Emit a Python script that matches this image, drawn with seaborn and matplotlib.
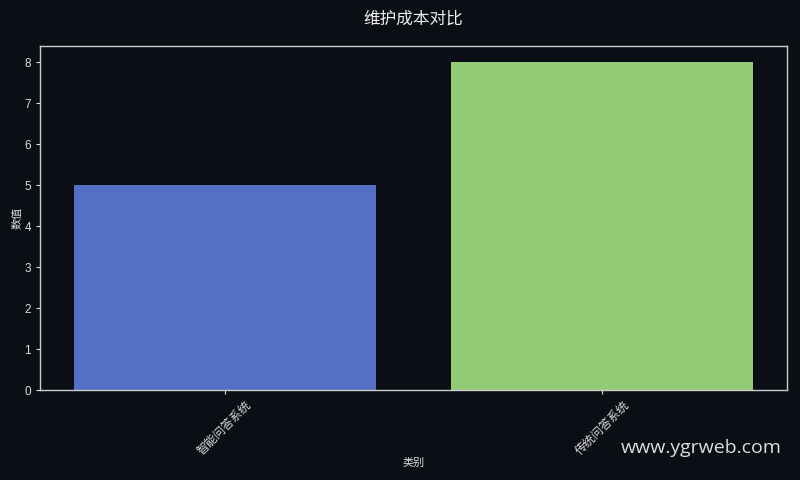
import seaborn as sns
import matplotlib.pyplot as plt
import pandas as pd

categories = ['智能问答系统', '传统问答系统']
values = [5, 8]
colors = ['#5470c6', '#91cc75']

bg = '#0b0e14'
sns.set_style('dark')
plt.rcParams['font.family'] = ['Liberation Sans', 'Noto Sans CJK SC', 'DejaVu Sans']

df = pd.DataFrame({'类别': categories, '数值': values})

fig, ax = plt.subplots(figsize=(8, 4.8), dpi=100)
fig.patch.set_facecolor(bg)
ax.set_facecolor(bg)

sns.barplot(data=df, x='类别', y='数值', hue='类别', palette=colors,
            legend=False, width=0.8, saturation=1, linewidth=0,
            edgecolor='none', ax=ax)

ax.set_xlim(-0.49, 1.49)
ax.set_ylim(0, 8.4)

for s in ax.spines.values():
    s.set_visible(True)
    s.set_color('#cccccc')
    s.set_linewidth(1)

ax.tick_params(colors='#dddddd', labelsize=8.5, length=3, bottom=True, left=True)
plt.setp(ax.get_xticklabels(), rotation=45, ha='center')
ax.set_xlabel('类别', color='#dddddd', fontsize=8, labelpad=0)
ax.set_ylabel('数值', color='#dddddd', fontsize=8, labelpad=1)
ax.set_title('维护成本对比', color='#eeeeee', fontsize=12, pad=16)
ax.grid(False)

fig.text(0.977, 0.066, 'www.ygrweb.com', color='#dddddd', fontsize=14,
         ha='right', va='center', family=['Open Sans', 'DejaVu Sans'])

fig.subplots_adjust(left=0.05, right=0.984, top=0.904, bottom=0.187)
fig.savefig('out.png', facecolor=bg)
